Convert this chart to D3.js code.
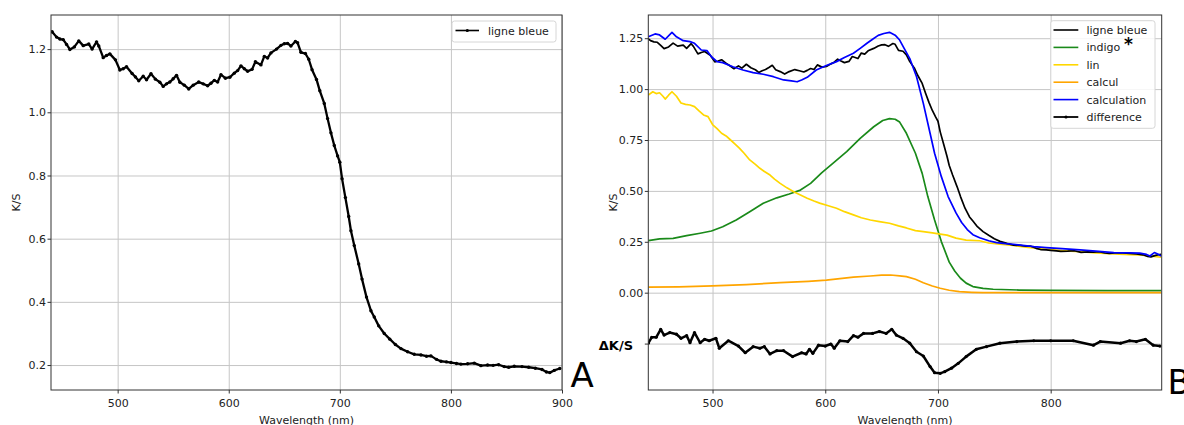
<!DOCTYPE html>
<html><head><meta charset="utf-8">
<script src="https://cdn.jsdelivr.net/npm/d3@7"></script>
<style>
body{margin:0;background:#fff}
svg{display:block}
text{font-family:"DejaVu Sans",sans-serif}
</style>
</head><body>
<svg id="c" width="1184" height="425"></svg>
<script>
// ---------- DATA (wavelength nm, K/S) ----------
const ligneBleue = [[441,1.255],[445,1.238],[448,1.232],[451,1.230],[454,1.215],[457,1.199],[461,1.207],[465,1.226],[469,1.211],[474,1.216],[477,1.200],[481,1.223],[483,1.210],[487,1.173],[490,1.180],[493,1.185],[498,1.166],[502,1.134],[505,1.138],[508,1.144],[513,1.123],[516,1.112],[519,1.100],[523,1.114],[526,1.103],[530,1.122],[534,1.105],[538,1.095],[541,1.082],[544,1.090],[547,1.096],[550,1.106],[553,1.117],[556,1.095],[560,1.086],[564,1.074],[568,1.086],[573,1.096],[577,1.090],[581,1.084],[584,1.092],[587,1.101],[590,1.096],[593,1.119],[597,1.108],[601,1.111],[605,1.124],[608,1.132],[611,1.147],[614,1.138],[617,1.130],[621,1.136],[624,1.160],[629,1.150],[632,1.177],[635,1.172],[638,1.188],[643,1.200],[647,1.212],[650,1.217],[653,1.218],[656,1.210],[660,1.224],[662,1.220],[665,1.190],[669,1.186],[672,1.168],[675,1.135],[679,1.104],[682,1.068],[686,1.028],[689,0.980],[692,0.935],[695,0.895],[698,0.862],[700,0.842],[702,0.790],[705,0.730],[708,0.670],[710,0.625],[713,0.578],[717,0.520],[720,0.472],[724,0.415],[728,0.372],[731,0.352],[735,0.324],[740,0.300],[745,0.282],[750,0.265],[755,0.252],[761,0.242],[767,0.234],[773,0.232],[778,0.228],[782,0.229],[787,0.218],[791,0.212],[796,0.210],[800,0.208],[805,0.205],[809,0.203],[815,0.204],[821,0.206],[827,0.198],[833,0.200],[838,0.199],[843,0.201],[848,0.195],[852,0.193],[857,0.196],[864,0.195],[870,0.193],[876,0.190],[882,0.186],[886,0.178],[889,0.176],[893,0.183],[898,0.189]];

const indigo = [[443,0.256],[453,0.264],[465,0.267],[477,0.280],[489,0.292],[499,0.303],[509,0.324],[521,0.357],[533,0.398],[545,0.439],[557,0.466],[568,0.485],[578,0.504],[587,0.537],[597,0.590],[607,0.636],[619,0.693],[631,0.758],[643,0.815],[651,0.846],[657,0.855],[662,0.852],[666,0.838],[672,0.783],[680,0.685],[686,0.586],[691,0.472],[697,0.357],[703,0.251],[710,0.150],[715,0.105],[720,0.071],[725,0.047],[731,0.030],[740,0.021],[749,0.017],[772,0.013],[800,0.011],[850,0.010],[898,0.010]];

const lin = [[443,0.971],[447,0.987],[450,0.978],[453,0.982],[456,0.965],[458,0.951],[461,0.970],[464,0.987],[468,0.965],[472,0.932],[476,0.925],[480,0.922],[484,0.914],[488,0.893],[492,0.873],[496,0.865],[500,0.826],[504,0.806],[508,0.783],[512,0.770],[516,0.750],[520,0.730],[524,0.709],[528,0.685],[533,0.652],[538,0.630],[542,0.611],[546,0.595],[551,0.578],[555,0.558],[560,0.537],[566,0.515],[572,0.496],[578,0.480],[584,0.464],[590,0.450],[595,0.440],[602,0.428],[610,0.415],[617,0.398],[625,0.382],[632,0.368],[640,0.357],[648,0.349],[657,0.341],[665,0.328],[672,0.318],[680,0.305],[687,0.300],[695,0.294],[702,0.288],[708,0.283],[716,0.268],[725,0.258],[737,0.255],[745,0.244],[755,0.238],[767,0.232],[780,0.222],[796,0.214],[810,0.207],[826,0.201],[840,0.196],[856,0.190],[870,0.187],[879,0.185],[890,0.180],[898,0.174]];

const calcul = [[443,0.027],[470,0.029],[500,0.033],[530,0.040],[560,0.049],[585,0.056],[601,0.062],[625,0.076],[640,0.082],[650,0.086],[658,0.087],[666,0.083],[672,0.079],[680,0.066],[687,0.049],[695,0.033],[702,0.022],[710,0.012],[719,0.005],[730,0.002],[740,0.000],[898,0.000]];

const calculation = [[443,1.257],[449,1.271],[453,1.266],[458,1.245],[464,1.279],[468,1.257],[474,1.238],[480,1.233],[484,1.225],[490,1.192],[495,1.189],[499,1.159],[504,1.135],[509,1.130],[518,1.110],[527,1.094],[536,1.081],[545,1.073],[554,1.061],[563,1.045],[570,1.040],[575,1.036],[579,1.045],[584,1.058],[592,1.094],[601,1.116],[610,1.135],[617,1.155],[625,1.176],[631,1.200],[637,1.225],[642,1.245],[647,1.264],[652,1.273],[657,1.279],[662,1.265],[666,1.241],[670,1.200],[675,1.150],[681,1.061],[687,0.930],[693,0.783],[697,0.685],[703,0.570],[709,0.472],[716,0.392],[721,0.345],[726,0.310],[731,0.285],[737,0.270],[745,0.255],[752,0.246],[760,0.241],[767,0.238],[773,0.234],[785,0.226],[796,0.221],[810,0.216],[826,0.210],[840,0.204],[856,0.197],[870,0.196],[879,0.194],[885,0.188],[888,0.180],[892,0.197],[895,0.190],[898,0.180]];

const difference = [[443,-0.248],[446,-0.219],[450,-0.219],[454,-0.180],[457,-0.208],[462,-0.196],[468,-0.204],[472,-0.224],[477,-0.211],[480,-0.246],[484,-0.196],[489,-0.246],[493,-0.229],[497,-0.236],[503,-0.224],[506,-0.273],[514,-0.236],[523,-0.262],[529,-0.295],[536,-0.265],[542,-0.273],[546,-0.265],[551,-0.301],[557,-0.285],[563,-0.285],[571,-0.314],[579,-0.295],[583,-0.301],[586,-0.278],[589,-0.298],[594,-0.258],[600,-0.262],[605,-0.252],[608,-0.273],[613,-0.236],[620,-0.240],[625,-0.211],[629,-0.219],[634,-0.200],[642,-0.200],[648,-0.191],[654,-0.200],[659,-0.180],[663,-0.208],[669,-0.224],[675,-0.248],[681,-0.290],[687,-0.311],[693,-0.363],[697,-0.393],[702,-0.396],[706,-0.388],[712,-0.371],[718,-0.347],[725,-0.314],[734,-0.278],[743,-0.265],[755,-0.248],[770,-0.240],[785,-0.236],[800,-0.236],[820,-0.236],[838,-0.258],[844,-0.240],[862,-0.248],[870,-0.236],[876,-0.240],[884,-0.229],[891,-0.258],[897,-0.262]];

const xTicksA = [500,600,700,800,900];
const yTicksA = [0.2,0.4,0.6,0.8,1.0,1.2];
const xTicksB = [500,600,700,800];
const yTicksB = [-0.25,0,0.25,0.5,0.75,1.0,1.25];
const seriesB = [
  {name:"ligne bleue", data:ligneBleue, color:"#000000", w:1.7, marker:false},
  {name:"indigo", data:indigo, color:"#1a8a1a", w:1.7, marker:false},
  {name:"lin", data:lin, color:"#ffd700", w:1.7, marker:false},
  {name:"calcul", data:calcul, color:"#ffa500", w:1.7, marker:false},
  {name:"calculation", data:calculation, color:"#0000ff", w:1.7, marker:false},
  {name:"difference", data:difference, color:"#000000", w:2.5, marker:true}
];

// ---------- DRAW ----------
const svg = d3.select("#c");
const FS = 11;

const xA = d3.scaleLinear([440,900],[51,562]);
const yA = d3.scaleLinear([0.121,1.308],[390,15]);
const xB = d3.scaleLinear([443,898.5],[648.3,1161.7]);
const yB = d3.scaleLinear([-0.478,1.364],[390,15]);

function frame(x, y, xt, yt, id) {
  const [l,r] = x.range(), [b,t] = y.range();
  const g = svg.append("g");
  g.append("g").attr("transform",`translate(0,${b})`)
    .call(d3.axisBottom(x).tickValues(xt).tickSize(-(b-t)).tickFormat(""))
    .call(s=>{s.select(".domain").remove();s.selectAll("line").attr("stroke","#c6c6c6").attr("stroke-width",1);});
  g.append("g").attr("transform",`translate(${l},0)`)
    .call(d3.axisLeft(y).tickValues(yt).tickSize(-(r-l)).tickFormat(""))
    .call(s=>{s.select(".domain").remove();s.selectAll("line").attr("stroke","#c6c6c6").attr("stroke-width",1);});
  svg.append("clipPath").attr("id",id).append("rect").attr("x",l).attr("y",t).attr("width",r-l).attr("height",b-t);
  return g;
}
function axes(x, y, xt, yt, yfmt) {
  const [l,r] = x.range(), [b,t] = y.range();
  const ax = svg.append("g").attr("transform",`translate(0,${b})`)
    .call(d3.axisBottom(x).tickValues(xt).tickSize(3.5).tickPadding(5.5).tickFormat(d3.format("d")));
  ax.select(".domain").remove();
  ax.selectAll("line").attr("stroke","#333");
  ax.selectAll("text").attr("font-size",FS).attr("fill","#222").attr("font-family","DejaVu Sans");
  const ay = svg.append("g").attr("transform",`translate(${l},0)`)
    .call(d3.axisLeft(y).tickValues(yt).tickSize(3.5).tickPadding(1.5).tickFormat(yfmt));
  ay.select(".domain").remove();
  ay.selectAll("line").attr("stroke","#333");
  ay.selectAll("text").attr("font-size",FS).attr("fill","#222").attr("font-family","DejaVu Sans");
  svg.append("rect").attr("x",l).attr("y",t).attr("width",r-l).attr("height",b-t)
    .attr("fill","none").attr("stroke","#333").attr("stroke-width",1);
  svg.append("text").attr("x",(l+r)/2).attr("y",424).attr("text-anchor","middle")
    .attr("font-size",FS).attr("fill","#222").text("Wavelength (nm)");
  svg.append("text").attr("transform",`translate(${l-31.5},${(t+b)/2}) rotate(-90)`).attr("text-anchor","middle")
    .attr("font-size",FS).attr("fill","#222").text("K/S");
  return ay;
}

// Panel A
frame(xA,yA,xTicksA,yTicksA,"clipA");
const lineA = d3.line().x(d=>xA(d[0])).y(d=>yA(d[1]));
const gA = svg.append("g").attr("clip-path","url(#clipA)");
gA.append("path").datum(ligneBleue).attr("d",lineA).attr("fill","none").attr("stroke","#000").attr("stroke-width",2.3).attr("stroke-linejoin","round");
gA.selectAll("circle").data(ligneBleue).join("circle").attr("cx",d=>xA(d[0])).attr("cy",d=>yA(d[1])).attr("r",1.7).attr("fill","#000");
axes(xA,yA,xTicksA,yTicksA,d3.format(".1f"));

// Legend A
const legA = svg.append("g");
legA.append("rect").attr("x",452).attr("y",21).attr("width",104).attr("height",21).attr("rx",2.5)
  .attr("fill","#fff").attr("fill-opacity",0.85).attr("stroke","#d6d6d6");
legA.append("line").attr("x1",455.5).attr("x2",479).attr("y1",30.5).attr("y2",30.5).attr("stroke","#000").attr("stroke-width",1.6);
legA.append("circle").attr("cx",467.3).attr("cy",30.5).attr("r",1.6).attr("fill","#000");
legA.append("text").attr("x",488).attr("y",34.5).attr("font-size",FS).attr("fill","#222").text("ligne bleue");

// Panel B
frame(xB,yB,xTicksB,yTicksB,"clipB");
const lineB = d3.line().x(d=>xB(d[0])).y(d=>yB(d[1]));
const gB = svg.append("g").attr("clip-path","url(#clipB)");
const order = [1,2,3,0,4,5];
order.forEach(i=>{
  const s = seriesB[i];
  gB.append("path").datum(s.data).attr("d",lineB).attr("fill","none").attr("stroke",s.color)
    .attr("stroke-width",s.w).attr("stroke-linejoin","round");
  if (s.marker) {
    gB.append("g").selectAll("circle").data(s.data).join("circle")
      .attr("cx",d=>xB(d[0])).attr("cy",d=>yB(d[1])).attr("r",1.6).attr("fill",s.color);
  }
});
const ayB = axes(xB,yB,xTicksB,yTicksB,d=> d===-0.25 ? "ΔK/S" : d3.format(".2f")(d));
ayB.selectAll(".tick").filter(d=>d===-0.25).select("text")
  .attr("font-family","Liberation Sans, Arial, sans-serif").attr("font-weight","bold")
  .attr("font-size",13).attr("fill","#000").attr("x",-15.3).attr("dy","0.45em");

// Legend B
const legB = svg.append("g");
legB.append("rect").attr("x",1050.7).attr("y",20.7).attr("width",104.3).attr("height",107.6).attr("rx",2.5)
  .attr("fill","#fff").attr("fill-opacity",0.85).attr("stroke","#d6d6d6");
const rowY = [30,47.4,64.8,82.2,99.6,117];
seriesB.forEach((s,i)=>{
  legB.append("line").attr("x1",1053.5).attr("x2",1078.3).attr("y1",rowY[i]).attr("y2",rowY[i])
    .attr("stroke",s.color).attr("stroke-width",s.marker?1.8:1.6);
  if (s.marker) legB.append("circle").attr("cx",1066).attr("cy",rowY[i]).attr("r",1.6).attr("fill",s.color);
  legB.append("text").attr("x",1086.5).attr("y",rowY[i]+4).attr("font-size",FS).attr("fill","#222").text(s.name);
});
legB.append("text").attr("x",1124).attr("y",50).attr("font-size",17).attr("font-weight","bold")
  .attr("font-family","Liberation Sans, Arial, sans-serif").attr("fill","#000").text("*");

// Panel letters
svg.append("text").attr("x",570.5).attr("y",387).attr("font-size",34)
  .attr("font-family","Liberation Sans, Arial, sans-serif").attr("fill","#000").text("A");
svg.append("text").attr("x",1167.5).attr("y",393.5).attr("font-size",34)
  .attr("font-family","Liberation Sans, Arial, sans-serif").attr("fill","#000").text("B");
</script>
</body></html>
